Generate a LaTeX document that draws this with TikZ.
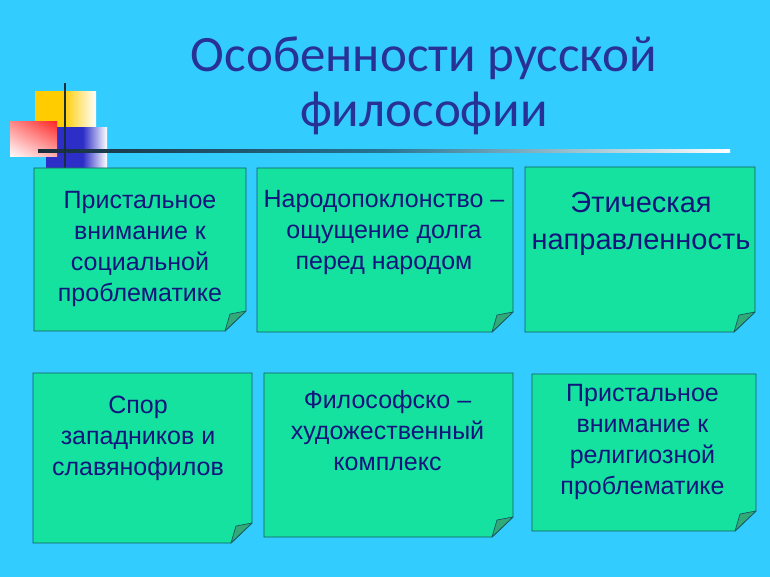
\documentclass[tikz,border=0pt]{standalone}
\usepackage{fontspec}
\usetikzlibrary{shadings}
\setmainfont{Liberation Sans}
\newfontfamily\titlefont{Carlito}
\definecolor{bg}{RGB}{51,204,255}
\definecolor{boxgreen}{RGB}{22,226,160}
\definecolor{boxline}{RGB}{20,90,100}
\definecolor{foldgreen}{RGB}{50,170,120}
\definecolor{txtblue}{RGB}{20,20,125}
\definecolor{titleblue}{RGB}{40,50,150}
\definecolor{yelc}{RGB}{255,204,0}
\definecolor{bluec}{RGB}{45,45,200}
\definecolor{linedark}{RGB}{25,45,60}
\definecolor{redur}{RGB}{255,40,40}
\definecolor{redul}{RGB}{255,140,140}
\definecolor{redlr}{RGB}{255,175,175}
\pgfdeclarehorizontalshading{yelshade}{100bp}{color(0bp)=(yelc); color(48bp)=(yelc); color(75bp)=(white); color(100bp)=(white)}
\pgfdeclarehorizontalshading{blueshade}{100bp}{color(0bp)=(bluec); color(55bp)=(bluec); color(75bp)=(white); color(100bp)=(white)}
\pgfdeclarehorizontalshading{lineshade}{100bp}{color(0bp)=(linedark); color(25bp)=(linedark); color(50bp)=(linedark!55!bg); color(75bp)=(white); color(100bp)=(white)}
\newcommand{\foldbox}[1]{%
  \path[boxst] (#1.north west) -- (#1.north east) -- ([yshift=20pt]#1.south east)
     -- ([xshift=-21pt]#1.south east) -- (#1.south west) -- cycle;
  \path[foldst] ([xshift=-21pt]#1.south east) -- ([yshift=20pt]#1.south east)
     -- ([xshift=-16pt,yshift=17pt]#1.south east) -- cycle;}
\begin{document}
\begin{tikzpicture}[x=1pt,y=1pt,
  frame/.style={inner sep=0pt, outer sep=0pt, draw=none},
  boxst/.style={fill=boxgreen, draw=boxline, line width=0.9pt},
  foldst/.style={fill=foldgreen, draw=boxline, line width=0.7pt, line join=round},
  txt/.style={align=center, text=txtblue, font=\fontsize{25}{31}\selectfont, inner sep=0pt},
  bigtxt/.style={align=center, text=txtblue, font=\fontsize{29}{37}\selectfont, inner sep=0pt},
  titlest/.style={align=center, text=titleblue, font=\titlefont\fontsize{51}{55}\selectfont, inner sep=0pt}]
\useasboundingbox (0,0) rectangle (770,-577);
\fill[bg] (0,0) rectangle (770,-577);
% decoration
\shade[shading=yelshade] (35,-92) rectangle (96,-128);
\shade[shading=blueshade] (46,-128) rectangle (107,-168);
\shade[upper right=redur, upper left=redul, lower right=redlr, lower left=white] (10,-122) rectangle (57,-157);
\shade[shading=lineshade] (38,-149.8) rectangle (730,-152.4);
\fill[linedark] (63.8,-83) rectangle (66.4,-168);
% title
\node[titlest] (title) at (424,-86) {Особенности русской\\философии};
% boxes
\node[frame, minimum width=212pt, minimum height=163pt] (b1) at (140,-249.5) {};
\node[frame, minimum width=256pt, minimum height=164pt] (b2) at (385,-250) {};
\node[frame, minimum width=230pt, minimum height=165pt] (b3) at (640,-249.5) {};
\node[frame, minimum width=219pt, minimum height=170pt] (b4) at (142.5,-458) {};
\node[frame, minimum width=249pt, minimum height=164pt] (b5) at (388.5,-455) {};
\node[frame, minimum width=224pt, minimum height=157pt] (b6) at (644,-452.5) {};
\foldbox{b1}\foldbox{b2}\foldbox{b3}\foldbox{b4}\foldbox{b5}\foldbox{b6}
\node[txt] (t1) at (140,-248.5) {Пристальное\\внимание к\\социальной\\проблематике};
\node[txt] (t2) at (384,-232) {Народопоклонство –\\ощущение долга\\перед народом};
\node[bigtxt] (t3) at (641,-223.5) {Этическая\\направленность};
\node[txt] (t4) at (138,-438) {Спор\\западников и\\славянофилов};
\node[txt] (t5) at (387.5,-431) {Философско –\\художественный\\комплекс};
\node[txt] (t6) at (642.5,-441.5) {Пристальное\\внимание к\\религиозной\\проблематике};
\end{tikzpicture}
\end{document}
